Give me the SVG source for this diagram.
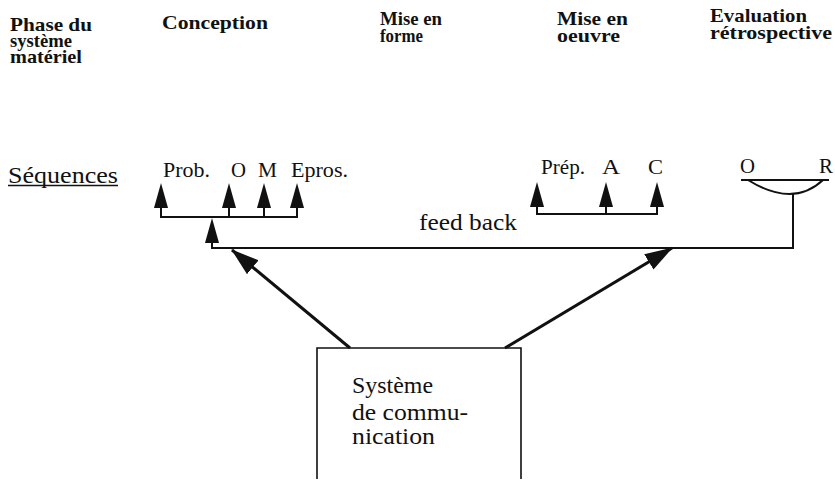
<svg xmlns="http://www.w3.org/2000/svg" width="835" height="481" viewBox="0 0 835 481">
<style>
.h{font-family:"Liberation Serif","DejaVu Serif","Times New Roman",serif;font-weight:bold;font-size:19.5px;fill:#111}
.t{font-family:"Liberation Serif","DejaVu Serif","Times New Roman",serif;font-size:20px;fill:#111}
.b{font-family:"Liberation Serif","DejaVu Serif","Times New Roman",serif;font-size:23px;fill:#111}
.ln{fill:none;stroke:#111;stroke-width:2}
.thick{fill:none;stroke:#111;stroke-width:3}
.box{fill:none;stroke:#111;stroke-width:1.6}
</style>
<defs>
<path id="up" d="M0,0 L7,25 L-7,25 Z" fill="#111"/>
<marker id="ah" markerUnits="userSpaceOnUse" markerWidth="28" markerHeight="18" viewBox="0 0 28 18" refX="27" refY="9" orient="auto">
<path d="M0,0 L28,9 L0,18 Z" fill="#111"/>
</marker>
</defs>
<rect width="835" height="481" fill="#fff"/>

<g id="header-phase">
<text class="h" x="10" y="31" textLength="82" lengthAdjust="spacingAndGlyphs">Phase du</text>
<text class="h" x="10" y="47" textLength="62" lengthAdjust="spacingAndGlyphs">système</text>
<text class="h" x="10" y="63" textLength="72" lengthAdjust="spacingAndGlyphs">matériel</text>
</g>
<g id="header-conception">
<text class="h" x="162" y="29" textLength="106" lengthAdjust="spacingAndGlyphs">Conception</text>
</g>
<g id="header-mise-en-forme">
<text class="h" x="380" y="25" textLength="62" lengthAdjust="spacingAndGlyphs">Mise en</text>
<text class="h" x="380" y="42" textLength="43" lengthAdjust="spacingAndGlyphs">forme</text>
</g>
<g id="header-mise-en-oeuvre">
<text class="h" x="557" y="25" textLength="71" lengthAdjust="spacingAndGlyphs">Mise en</text>
<text class="h" x="557" y="42" textLength="63" lengthAdjust="spacingAndGlyphs">oeuvre</text>
</g>
<g id="header-evaluation">
<text class="h" x="710" y="22" textLength="97" lengthAdjust="spacingAndGlyphs">Evaluation</text>
<text class="h" x="710" y="39" textLength="122" lengthAdjust="spacingAndGlyphs">rétrospective</text>
</g>

<g id="sequences">
<text class="b" x="8" y="183" textLength="110" lengthAdjust="spacingAndGlyphs">Séquences</text>
<line x1="8" y1="185.5" x2="118" y2="185.5" stroke="#111" stroke-width="1.5"/>
</g>

<g id="seq-conception">
<text class="t" x="163" y="177" textLength="47" lengthAdjust="spacingAndGlyphs">Prob.</text>
<text class="t" x="231" y="177" textLength="15" lengthAdjust="spacingAndGlyphs">O</text>
<text class="t" x="258" y="177" textLength="19" lengthAdjust="spacingAndGlyphs">M</text>
<text class="t" x="291" y="177" textLength="57" lengthAdjust="spacingAndGlyphs">Epros.</text>
<polyline class="ln" points="161,208 161,217 297,217 297,208"/>
<line class="ln" x1="229" y1="208" x2="229" y2="217"/>
<line class="ln" x1="264" y1="208" x2="264" y2="217"/>
<use href="#up" x="161" y="183"/>
<use href="#up" x="229" y="183"/>
<use href="#up" x="264" y="183"/>
<use href="#up" x="297" y="183"/>
</g>

<g id="seq-mise-en-oeuvre">
<text class="t" x="541" y="174" textLength="44" lengthAdjust="spacingAndGlyphs">Prép.</text>
<text class="t" x="602" y="174" textLength="18" lengthAdjust="spacingAndGlyphs">A</text>
<text class="t" x="648" y="174" textLength="15" lengthAdjust="spacingAndGlyphs">C</text>
<polyline class="ln" points="537,207 537,214 657,214 657,207"/>
<line class="ln" x1="606" y1="207" x2="606" y2="214"/>
<use href="#up" x="537" y="182"/>
<use href="#up" x="606" y="182"/>
<use href="#up" x="657" y="182"/>
</g>

<g id="seq-evaluation">
<text class="t" x="740" y="173" textLength="15" lengthAdjust="spacingAndGlyphs">O</text>
<text class="t" x="819" y="173" textLength="14" lengthAdjust="spacingAndGlyphs">R</text>
<line class="ln" x1="741" y1="180" x2="829" y2="180"/>
<path class="ln" d="M748,180 Q793,208 823,180"/>
</g>

<g id="feedback-label">
<text class="b" x="419" y="230" textLength="98" lengthAdjust="spacingAndGlyphs">feed back</text>
</g>

<g id="systeme-communication">
<polyline class="box" points="317,479 317,348 521,348 521,479"/>
<text class="b" x="352" y="393" textLength="81" lengthAdjust="spacingAndGlyphs">Système</text>
<text class="b" x="352" y="420" textLength="116" lengthAdjust="spacingAndGlyphs">de commu-</text>
<text class="b" x="352" y="444" textLength="83" lengthAdjust="spacingAndGlyphs">nication</text>
</g>

<g id="connectors">
<polyline class="ln" points="793,194 793,248 212,248 212,242"/>
<use href="#up" x="212" y="218"/>
<line class="thick" x1="350" y1="348" x2="232" y2="250" marker-end="url(#ah)"/>
<line class="thick" x1="505" y1="348" x2="672" y2="248" marker-end="url(#ah)"/>
</g>
</svg>
